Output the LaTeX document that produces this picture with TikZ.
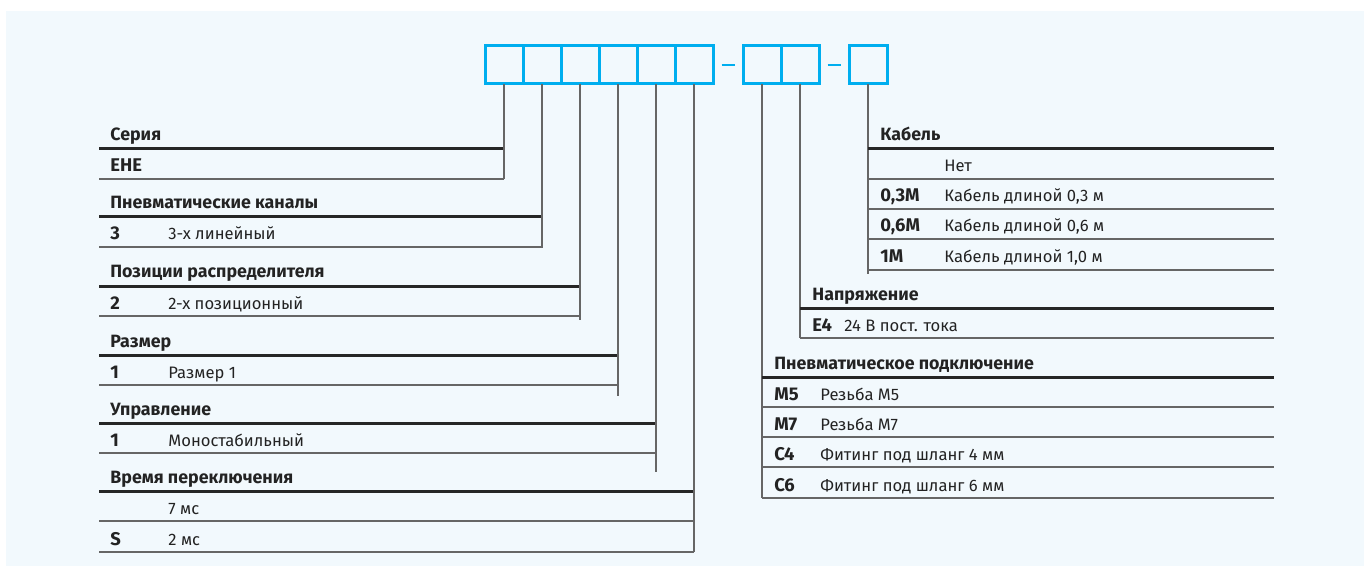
\documentclass[tikz,border=0pt]{standalone}
\usepackage{fontspec}
\setmainfont{Fira Sans}
\usetikzlibrary{positioning,calc}
\definecolor{KeyCyan}{RGB}{0,174,239}
\definecolor{KeyBg}{RGB}{242,249,253}
\definecolor{KeyText}{RGB}{35,35,35}

\begin{document}
\begin{tikzpicture}[
x=0.5pt,y=-0.5pt,
node distance=0pt,
box/.style={rectangle,draw=KeyCyan,line width=1.5pt,minimum size=19pt,inner sep=0pt,outer sep=0pt},
dashline/.style={draw=KeyCyan,line width=1.3pt},
conn/.style={draw=black!60,line width=0.75pt},
headrule/.style={draw=black!85,line width=1.5pt},
rowrule/.style={draw=black!60,line width=0.75pt},
headtxt/.style={anchor=base west,inner sep=0pt,font=\fontsize{8.9}{10}\selectfont\bfseries,text=KeyText},
codetxt/.style={anchor=base west,inner sep=0pt,font=\fontsize{9.2}{10}\selectfont\bfseries,text=KeyText},
desctxt/.style={anchor=base west,inner sep=0pt,font=\fontsize{8.3}{10}\selectfont,text=KeyText}
]
\useasboundingbox (0,0) rectangle (1370,577);
\fill[KeyBg] (6,11) rectangle (1364,566);

% code boxes
\node[box] (b1) at (504,65) {};
\node[box,right=of b1] (b2) {};
\node[box,right=of b2] (b3) {};
\node[box,right=of b3] (b4) {};
\node[box,right=of b4] (b5) {};
\node[box,right=of b5] (b6) {};
\node[box,right=15pt of b6] (b7) {};
\node[box,right=of b7] (b8) {};
\node[box,right=15pt of b8] (b9) {};
\draw[dashline] ($(b6.east)!0.5!(b7.west)$) +(-6.5,0) -- +(6.5,0);
\draw[dashline] ($(b8.east)!0.5!(b9.west)$) +(-6.5,0) -- +(6.5,0);

% left tables
\foreach \n/\t/\e/\head/\code/\desc in {
  1/149/179/Серия/EHE/{},
  2/217/248/Пневматические каналы/3/3-х линейный,
  3/286/320/Позиции распределителя/2/2-х позиционный,
  4/355/396/Размер/1/Размер 1,
  5/423/472/Управление/1/Моностабильный}{
  \coordinate (e\n) at (b\n.south |- 0,\e);
  \draw[headrule] (99,\t) -- (b\n.south |- 0,\t);
  \draw[rowrule] (99,{\t+30}) -- (b\n.south |- 0,{\t+30});
  \draw[conn] (b\n) -- (e\n);
  \node[headtxt] (h\n) at (110,{\t-8}) {\head};
  \node[codetxt] (c\n) at (110,{\t+23}) {\code};
  \node[desctxt] (d\n) at (168,{\t+23}) {\desc};
}
\coordinate (e6) at (b6.south |- 0,552);
\draw[headrule] (99,491) -- (b6.south |- 0,491);
\draw[rowrule] (99,521) -- (b6.south |- 0,521);
\draw[rowrule] (99,552) -- (b6.south |- 0,552);
\draw[conn] (b6) -- (e6);
\node[headtxt] (h6) at (110,483) {Время переключения};
\node[desctxt] (d6a) at (168,514) {7 мс};
\node[codetxt] (c6b) at (110,545) {S};
\node[desctxt] (d6b) at (168,545) {2 мс};

% right tables
\coordinate (e9) at (b9.south |- 0,274);
\draw[conn] (b9) -- (e9);
\draw[headrule] (b9.south |- 0,149) -- (1274,149);
\foreach \y in {179,209,239,270}
  \draw[rowrule] (b9.south |- 0,\y) -- (1274,\y);
\node[headtxt] (h9) at (880,141) {Кабель};
\node[desctxt] (d9a) at (944,172) {Нет};
\node[codetxt] (c9b) at (880,202) {0,3M};
\node[desctxt] (d9b) at (944,202) {Кабель длиной 0,3 м};
\node[codetxt] (c9c) at (880,232) {0,6M};
\node[desctxt] (d9c) at (944,232) {Кабель длиной 0,6 м};
\node[codetxt] (c9d) at (880,263) {1M};
\node[desctxt] (d9d) at (944,263) {Кабель длиной 1,0 м};

\coordinate (e8) at (b8.south |- 0,338);
\draw[conn] (b8) -- (e8);
\draw[headrule] (b8.south |- 0,308) -- (1274,308);
\draw[rowrule] (b8.south |- 0,338) -- (1274,338);
\node[headtxt] (h8) at (812,300) {Напряжение};
\node[codetxt] (c8) at (812,331) {E4};
\node[desctxt] (d8) at (844,331) {24 В пост. тока};

\coordinate (e7) at (b7.south |- 0,498);
\draw[conn] (b7) -- (e7);
\draw[headrule] (b7.south |- 0,377) -- (1274,377);
\foreach \y in {407,437,467,498}
  \draw[rowrule] (b7.south |- 0,\y) -- (1274,\y);
\node[headtxt] (h7) at (774,369) {Пневматическое подключение};
\node[codetxt] (c7a) at (774,400) {M5};
\node[desctxt] (d7a) at (820,400) {Резьба M5};
\node[codetxt] (c7b) at (774,430) {M7};
\node[desctxt] (d7b) at (820,430) {Резьба M7};
\node[codetxt] (c7c) at (774,460) {C4};
\node[desctxt] (d7c) at (820,460) {Фитинг под шланг 4 мм};
\node[codetxt] (c7d) at (774,491) {C6};
\node[desctxt] (d7d) at (820,491) {Фитинг под шланг 6 мм};
\end{tikzpicture}
\end{document}
